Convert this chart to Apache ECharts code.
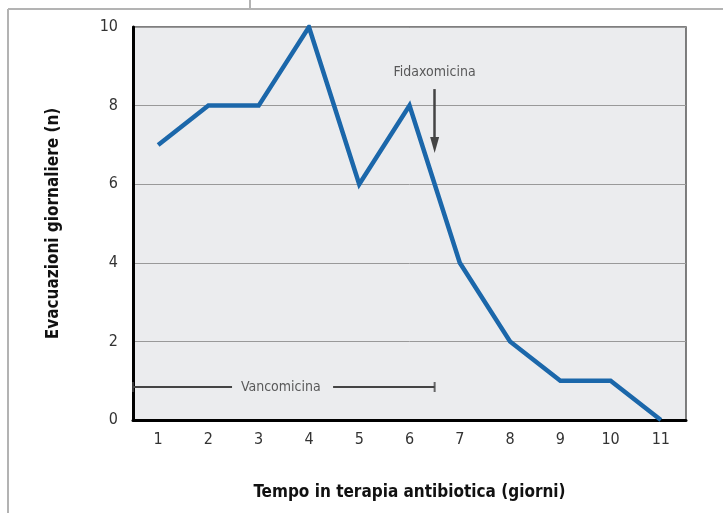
<!DOCTYPE html>
<html>
<head>
    <meta charset="utf-8">
    <title>Evacuazioni giornaliere</title>
    <script src="https://cdn.jsdelivr.net/npm/echarts@6/dist/echarts.min.js"></script>
    <style>
        html, body { margin: 0; padding: 0; background: #fff; }
        #chart { width: 723px; height: 513px; }
    </style>
</head>
<body>
<div id="chart"></div>
<script>
    // dati
    var giorni = ['1', '2', '3', '4', '5', '6', '7', '8', '9', '10', '11'];
    var evacuazioni = [7, 8, 8, 10, 6, 8, 4, 2, 1, 1, 0];
    var yTicks = { min: 0, max: 10, interval: 2 };

    // annotazioni (asse x continuo: 0.5 .. 11.5)
    var vancoY = 0.84;
    var vancoSegA = [[0.5, vancoY], [2.47, vancoY]];
    var vancoSegB = [[4.48, vancoY], [6.5, vancoY]];
    var vancoCaps = [[0.5, vancoY], [6.5, vancoY]];
    var vancoLabel = [[3.44, vancoY]];
    var fidaxArrow = [[6.5, 8.42], [6.5, 7.0]];
    var fidaxLabel = [[6.5, 8.85]];

    var font = '"DejaVu Sans Condensed", "Liberation Sans", sans-serif';
    var dark = '#444';

    var option = {
        animation: false,
        textStyle: { fontFamily: font },
        graphic: [
            { type: 'line', shape: { x1: 8, y1: 9, x2: 723, y2: 9 }, style: { stroke: '#b3b3b3', lineWidth: 2 } },
            { type: 'line', shape: { x1: 8, y1: 9, x2: 8, y2: 513 }, style: { stroke: '#b3b3b3', lineWidth: 2 } },
            { type: 'line', shape: { x1: 250, y1: 0, x2: 250, y2: 9 }, style: { stroke: '#b3b3b3', lineWidth: 2 } }
        ],
        grid: {
            left: 133, right: 37, top: 27, bottom: 93,
            show: true,
            backgroundColor: '#ebecee',
            borderColor: '#555',
            borderWidth: 1.5
        },
        xAxis: [{
            type: 'category',
            data: giorni,
            boundaryGap: true,
            name: 'Tempo in terapia antibiotica (giorni)',
            nameLocation: 'middle',
            nameGap: 64,
            nameTextStyle: { fontFamily: font, fontWeight: 'bold', fontSize: 17, color: '#111' },
            axisLine: { lineStyle: { color: '#000', width: 3 } },
            axisTick: { inside: true, length: 7, lineStyle: { color: '#666', width: 1 } },
            axisLabel: { fontFamily: font, fontSize: 16, color: '#333', margin: 12 },
            splitLine: { show: false }
        }, {
            type: 'value',
            min: 0.5,
            max: 11.5,
            show: false
        }],
        yAxis: {
            type: 'value',
            min: yTicks.min,
            max: yTicks.max,
            interval: yTicks.interval,
            name: 'Evacuazioni giornaliere (n)',
            nameLocation: 'middle',
            nameGap: 71,
            nameTextStyle: { fontFamily: font, fontWeight: 'bold', fontSize: 17, color: '#111' },
            axisLine: { show: true, lineStyle: { color: '#000', width: 3 } },
            axisTick: { show: false },
            axisLabel: { fontFamily: font, fontSize: 16, color: '#333', margin: 15 },
            splitLine: { lineStyle: { color: '#999', width: 1 } }
        },
        series: [{
            type: 'line',
            data: evacuazioni,
            symbol: 'none',
            lineStyle: { color: '#1b67aa', width: 4.5, join: 'miter' },
            z: 5
        }, {
            type: 'line',
            xAxisIndex: 1,
            data: vancoSegA,
            symbol: 'none',
            lineStyle: { color: dark, width: 2 }
        }, {
            type: 'line',
            xAxisIndex: 1,
            data: vancoSegB,
            symbol: 'none',
            lineStyle: { color: dark, width: 2 }
        }, {
            type: 'scatter',
            xAxisIndex: 1,
            data: vancoCaps,
            symbol: 'rect',
            symbolSize: [2, 10],
            itemStyle: { color: dark }
        }, {
            type: 'scatter',
            xAxisIndex: 1,
            data: vancoLabel,
            symbolSize: 0,
            label: { show: true, position: 'inside', formatter: 'Vancomicina', fontSize: 14, color: '#333', fontFamily: font }
        }, {
            type: 'scatter',
            xAxisIndex: 1,
            data: fidaxLabel,
            symbolSize: 0,
            label: { show: true, position: 'inside', formatter: 'Fidaxomicina', fontSize: 14, color: '#333', fontFamily: font }
        }, {
            type: 'line',
            xAxisIndex: 1,
            data: [],
            markLine: {
                silent: true,
                symbol: ['none', 'triangle'],
                symbolSize: [9, 16],
                symbolRotate: 180,
                label: { show: false },
                lineStyle: { color: dark, width: 2.5, type: 'solid' },
                data: [[{ coord: fidaxArrow[0] }, { coord: fidaxArrow[1] }]]
            }
        }]
    };

    var myChart = echarts.init(document.getElementById('chart'));
    myChart.setOption(option);
</script>
</body>
</html>
